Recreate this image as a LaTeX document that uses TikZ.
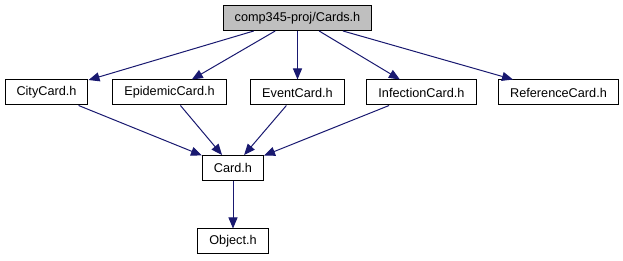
\documentclass[tikz,border=0pt]{standalone}
\usepackage{fontspec}
\setmainfont{Liberation Sans}
\usetikzlibrary{arrows.meta}

\definecolor{midnightblue}{HTML}{191970}
\definecolor{grey75}{HTML}{BFBFBF}

\begin{document}
\begin{tikzpicture}[x=1pt, y=-1pt,
    file/.style={draw=black, line width=1pt, fill=white, minimum height=25pt,
        inner xsep=11.5pt, inner ysep=0pt, font=\fontsize{12.7}{15}\selectfont},
    dep/.style={draw=midnightblue, line width=1pt,
        -{Triangle[length=11pt,width=9pt]}}]
    \useasboundingbox (0,0) rectangle (623,261);

    % Top file
    \node[file, fill=grey75] (cards) at (297.5,18) {comp345-proj/Cards.h};

    % Directly included headers
    \foreach \name/\x/\label in {city/46.5/CityCard.h, epidemic/169.5/EpidemicCard.h,
        event/297.5/EventCard.h, infection/421.5/InfectionCard.h,
        reference/558.5/ReferenceCard.h} {
        \node[file] (\name) at (\x,92.5) {\label};
    }

    % Base headers
    \node[file] (card) at (233,168) {Card.h};
    \node[file] (object) at (233,241.5) {Object.h};

    % Include edges
    \foreach \name in {city,epidemic,event,infection,reference}
        \draw[dep] (cards) -- (\name);
    \foreach \name in {city,epidemic,event,infection}
        \draw[dep] (\name) -- (card);
    \draw[dep] (card) -- (object);
\end{tikzpicture}
\end{document}
